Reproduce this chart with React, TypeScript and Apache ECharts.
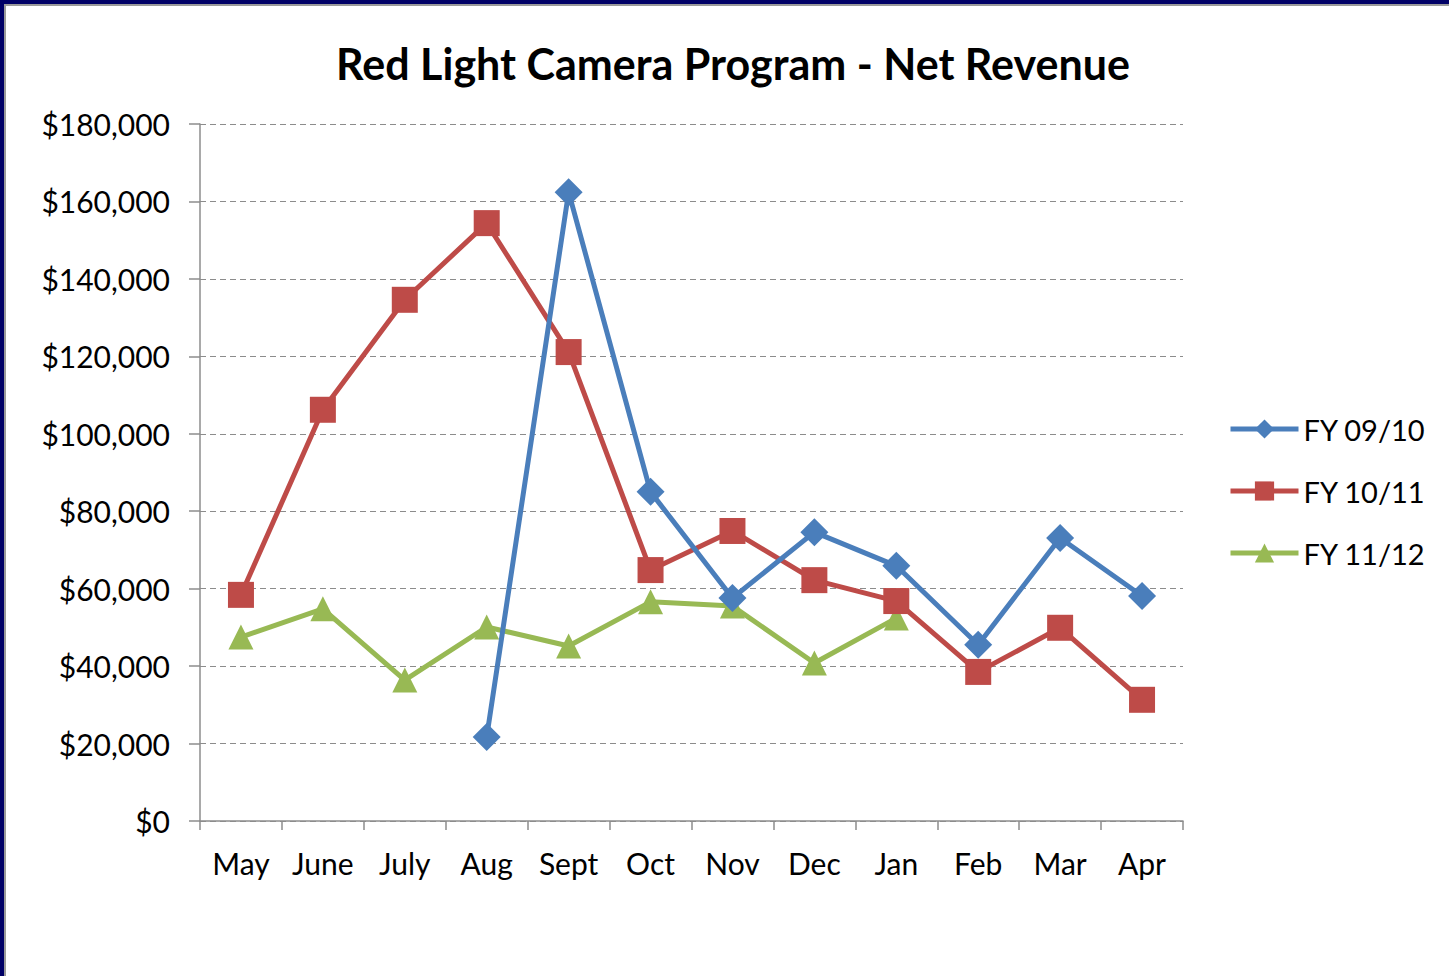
import React, { useEffect, useRef } from "react";
import * as echarts from "echarts";

const months = ["May", "June", "July", "Aug", "Sept", "Oct", "Nov", "Dec", "Jan", "Feb", "Mar", "Apr"];
const fy0910 = [null, null, null, 21700, 162400, 85000, 57600, 74600, 65900, 45500, 73100, 58100];
const fy1011 = [58400, 106200, 134600, 154400, 121100, 64800, 74900, 62200, 56800, 38500, 49900, 31300];
const fy1112 = [47500, 54800, 36400, 50100, 45200, 56600, 55500, 40800, 52400, null, null, null];
const seriesNames = ["FY 09/10", "FY 10/11", "FY 11/12"];
const colors = ["#4A7EBB", "#BE4B48", "#98B954"];
const symbols = ["diamond", "rect", "triangle"];
const symbolSizes = [28, 26, 25];

const FONT = "Lato, 'Open Sans', sans-serif";

export default function App() {
  const ref = useRef<HTMLDivElement>(null);
  useEffect(() => {
    document.body.style.margin = "0";
    const chart = echarts.init(ref.current!, null, { renderer: "svg" });
    const data = [fy0910, fy1011, fy1112];
    chart.setOption({
      animation: false,
      backgroundColor: "#ffffff",
      textStyle: { fontFamily: FONT },
      title: {
        text: "Red Light Camera Program - Net Revenue",
        left: 728,
        textAlign: "center",
        top: 37,
        textStyle: { fontFamily: FONT, fontSize: 43, fontWeight: "bold", color: "#000" },
      },
      legend: {
        orient: "vertical",
        left: 1228,
        top: 414,
        padding: 0,
        itemWidth: 68,
        itemHeight: 24,
        itemGap: 32,
        lineStyle: { width: 5 },
        textStyle: { fontFamily: FONT, fontSize: 29, color: "#000", lineHeight: 30 },
        data: seriesNames,
      },
      grid: { left: 200, right: 266, top: 124, bottom: 155 },
      xAxis: {
        type: "category",
        data: months,
        boundaryGap: true,
        axisLine: { lineStyle: { color: "#8c8c8c", width: 1.5 } },
        axisTick: { show: true, length: 9, lineStyle: { color: "#8c8c8c", width: 1.5 } },
        axisLabel: { fontFamily: FONT, fontSize: 30, color: "#000", margin: 27 },
      },
      yAxis: {
        type: "value",
        min: 0,
        max: 180000,
        interval: 20000,
        axisLine: { show: true, lineStyle: { color: "#8c8c8c", width: 1.5 } },
        axisTick: { show: true, length: 11, lineStyle: { color: "#8c8c8c", width: 1.5 } },
        splitLine: { lineStyle: { color: "#8c8c8c", type: [6, 4], width: 1.2 } },
        axisLabel: {
          fontFamily: FONT,
          fontSize: 30,
          color: "#000",
          margin: 30,
          formatter: (v: number) => "$" + v.toLocaleString("en-US"),
        },
      },
      graphic: [
        { type: "rect", shape: { x: 0, y: 0, width: 1449, height: 4 }, style: { fill: "#000066" } },
        { type: "rect", shape: { x: 0, y: 4, width: 1449, height: 2 }, style: { fill: "#9a9a9a" } },
        { type: "rect", shape: { x: 0, y: 0, width: 4, height: 976 }, style: { fill: "#000066" } },
        { type: "rect", shape: { x: 4, y: 4, width: 2, height: 972 }, style: { fill: "#9a9a9a" } },
      ],
      series: seriesNames.map((name, i) => ({
        name,
        type: "line",
        data: data[i],
        symbol: symbols[i],
        symbolSize: symbolSizes[i],
        showAllSymbol: true,
        connectNulls: false,
        lineStyle: { color: colors[i], width: 5 },
        itemStyle: { color: colors[i] },
        z: 10 - i,
      })),
    });
    return () => chart.dispose();
  }, []);
  return <div ref={ref} style={{ width: 1449, height: 976 }} />;
}
